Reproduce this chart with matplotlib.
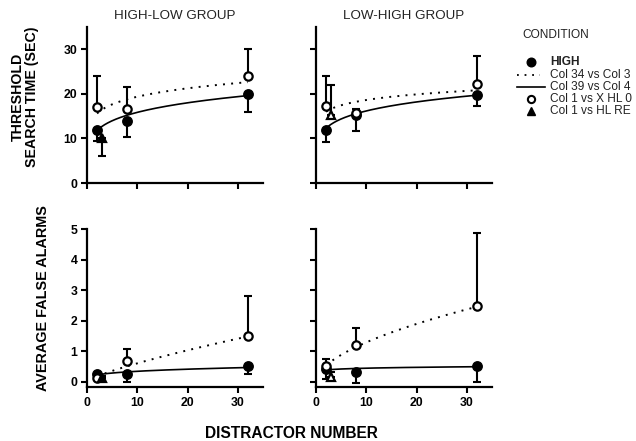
import numpy as np
import matplotlib
matplotlib.use("Agg")
import matplotlib.pyplot as plt
from matplotlib.lines import Line2D

plt.rcParams['font.family'] = ['Liberation Sans', 'DejaVu Sans']

# ---------------- data ----------------
x_vals = [2, 8, 32]
tri_x = 3

# Threshold search time, HIGH-LOW group
hl_high = [11.8, 14.0, 19.9]
hl_high_err = [2.3, 3.6, 3.9]          # drawn downward
hl_open = [17.1, 16.5, 24.0]
hl_open_err = [7.0, 5.0, 6.1]          # drawn upward
hl_tri = 10.0
hl_tri_err = 3.9                       # downward
hl_high_fit = (10.4, 0.183)            # power fit a*x^p
hl_open_fit = (14.22, 0.134)

# Threshold search time, LOW-HIGH group
lh_high = [12.0, 15.3, 19.7]
lh_high_err = [2.7, 3.7, 2.5]
lh_open = [17.3, 15.6, 22.1]
lh_open_err = [6.6, 1.1, 6.3]
lh_tri = 15.2
lh_tri_err = 6.8                       # upward
lh_high_fit = (10.93, 0.17)
lh_open_fit = (14.98, 0.0946)

# Average false alarms, HIGH-LOW group
hlfa_high = [0.26, 0.26, 0.50]
hlfa_high_err = [0.05, 0.26, 0.25]
hlfa_open = [0.10, 0.67, 1.48]
hlfa_open_err = [0.05, 0.40, 1.32]
hlfa_tri = 0.12
hlfa_tri_err = 0.05
hlfa_high_fit = (0.18, 0.27)
hlfa_open_fit = (0.099, 0.78)

# Average false alarms, LOW-HIGH group
lhfa_high = [0.42, 0.31, 0.51]
lhfa_high_err = [0.34, 0.36, 0.53]
lhfa_open = [0.50, 1.19, 2.48]
lhfa_open_err = [0.23, 0.58, 2.39]
lhfa_tri = 0.14
lhfa_tri_err = 0.17
lhfa_high_fit = (0.355, 0.09)
lhfa_open_fit = (0.357, 0.556)

group_titles = ["HIGH-LOW GROUP", "LOW-HIGH GROUP"]
legend_title = "CONDITION"
legend_labels = ["HIGH", "Col 34 vs Col 3", "Col 39 vs Col 4", "Col 1 vs X HL 0", "Col 1 vs HL RE"]
x_ticks = [0, 10, 20, 30]
top_yticks = [0, 10, 20, 30]
bot_yticks = [0, 1, 2, 3, 4, 5]

# ---------------- figure ----------------
W, H = 636, 441
fig = plt.figure(figsize=(W / 100, H / 100), dpi=100)

def px_axes(x0, y0, x1, y1):
    return fig.add_axes([x0 / W, 1 - y1 / H, (x1 - x0) / W, (y1 - y0) / H])

ax_tl = px_axes(87, 27, 263, 183)
ax_tr = px_axes(316, 27, 492, 183)
ax_bl = px_axes(87, 229, 263, 387)
ax_br = px_axes(316, 229, 492, 387)

MS = 6.8
MEW = 1.6
DOT = (0, (1, 3.2))

def panel(ax, high, high_err, opn, opn_err, tri, tri_err, tri_up, tri_filled,
          high_fit, open_fit):
    xf = np.linspace(2, 32, 200)
    ax.plot(xf, high_fit[0] * xf ** high_fit[1], color='black', lw=1.2, zorder=2)
    ax.plot(xf, open_fit[0] * xf ** open_fit[1], color='black', lw=1.4,
            linestyle=DOT, zorder=2)
    # error bars
    ax.errorbar(x_vals, high, yerr=[high_err, [0] * 3], fmt='none', ecolor='black',
                elinewidth=1.5, capsize=3, capthick=1.5, zorder=3)
    ax.errorbar(x_vals, opn, yerr=[[0] * 3, opn_err], fmt='none', ecolor='black',
                elinewidth=1.5, capsize=3, capthick=1.5, zorder=3)
    if tri_up:
        terr = [[0], [tri_err]]
    else:
        terr = [[tri_err], [0]]
    ax.errorbar([tri_x], [tri], yerr=terr, fmt='none', ecolor='black',
                elinewidth=1.5, capsize=3, capthick=1.5, zorder=3)
    ax.plot(x_vals, high, 'o', color='black', ms=MS, zorder=4)
    ax.plot(x_vals, opn, 'o', mfc='white', mec='black', mew=MEW, ms=MS - 0.8, zorder=5)
    ax.plot([tri_x], [tri], '^', mfc='black' if tri_filled else 'white',
            mec='black', mew=MEW, ms=MS - 0.6, zorder=5)

panel(ax_tl, hl_high, hl_high_err, hl_open, hl_open_err, hl_tri, hl_tri_err,
      False, True, hl_high_fit, hl_open_fit)
panel(ax_tr, lh_high, lh_high_err, lh_open, lh_open_err, lh_tri, lh_tri_err,
      True, False, lh_high_fit, lh_open_fit)
panel(ax_bl, hlfa_high, hlfa_high_err, hlfa_open, hlfa_open_err, hlfa_tri, hlfa_tri_err,
      True, True, hlfa_high_fit, hlfa_open_fit)
panel(ax_br, lhfa_high, lhfa_high_err, lhfa_open, lhfa_open_err, lhfa_tri, lhfa_tri_err,
      True, False, lhfa_high_fit, lhfa_open_fit)

for ax in (ax_tl, ax_tr, ax_bl, ax_br):
    ax.set_xlim(0, 35)
    ax.set_xticks(x_ticks)
    for s in ('top', 'right'):
        ax.spines[s].set_visible(False)
    for s in ('left', 'bottom'):
        ax.spines[s].set_linewidth(1.6)
    ax.tick_params(direction='out', length=4, width=1.5, pad=3, labelsize=8.8)
    for lab in ax.get_xticklabels() + ax.get_yticklabels():
        lab.set_fontweight('bold')
    ax.patch.set_alpha(0)

for ax in (ax_tl, ax_tr):
    ax.set_ylim(0, 35)
    ax.set_yticks(top_yticks)
    ax.set_xticklabels([])
for ax in (ax_bl, ax_br):
    ax.set_ylim(-0.18, 5)
    ax.set_yticks(bot_yticks)
for ax in (ax_tr, ax_br):
    ax.set_yticklabels([])

for ax, t in zip((ax_tl, ax_tr), group_titles):
    ax.set_title(t, fontsize=9.6, pad=6, color='#222222')

fig.text(25 / W, 1 - 97 / H, "THRESHOLD\nSEARCH TIME (SEC)", rotation=90,
         ha='center', va='center', fontsize=10.2, fontweight='bold',
         linespacing=1.05, multialignment='center')
fig.text(43 / W, 1 - 298 / H, "AVERAGE FALSE ALARMS", rotation=90,
         ha='center', va='center', fontsize=10.4, fontweight='bold')
fig.text(291 / W, 1 - 433 / H, "DISTRACTOR NUMBER", ha='center', va='center',
         fontsize=11.2, fontweight='bold')

# ---------------- legend (drawn manually) ----------------
tf = fig.transFigure
def fy(y):
    return 1 - y / H

fig.text(522 / W, fy(35), legend_title, ha='left', va='center', fontsize=8.6, color='#222222')
rows = [61.7, 74.5, 86.5, 99.0, 111.0]
text_x = 550 / W
mx = 531 / W
fig.add_artist(Line2D([mx], [fy(rows[0])], marker='o', color='black', ms=6.2,
                      transform=tf, linestyle='none'))
fig.add_artist(Line2D([517 / W, 540 / W], [fy(rows[1])] * 2, color='black', lw=1.3,
                      linestyle=DOT, transform=tf))
fig.add_artist(Line2D([517 / W, 545 / W], [fy(rows[2])] * 2, color='black', lw=1.2,
                      transform=tf))
fig.add_artist(Line2D([mx], [fy(rows[3])], marker='o', mfc='white', mec='black',
                      mew=1.5, ms=5.2, transform=tf, linestyle='none'))
fig.add_artist(Line2D([mx], [fy(rows[4])], marker='^', color='black', ms=5.8,
                      transform=tf, linestyle='none'))
for i, (lab, y) in enumerate(zip(legend_labels, rows)):
    fig.text(text_x, fy(y), lab, ha='left', va='center', fontsize=8.6,
             fontweight='bold' if i == 0 else 'normal', color='#222222')

fig.savefig("out.png", dpi=100)
